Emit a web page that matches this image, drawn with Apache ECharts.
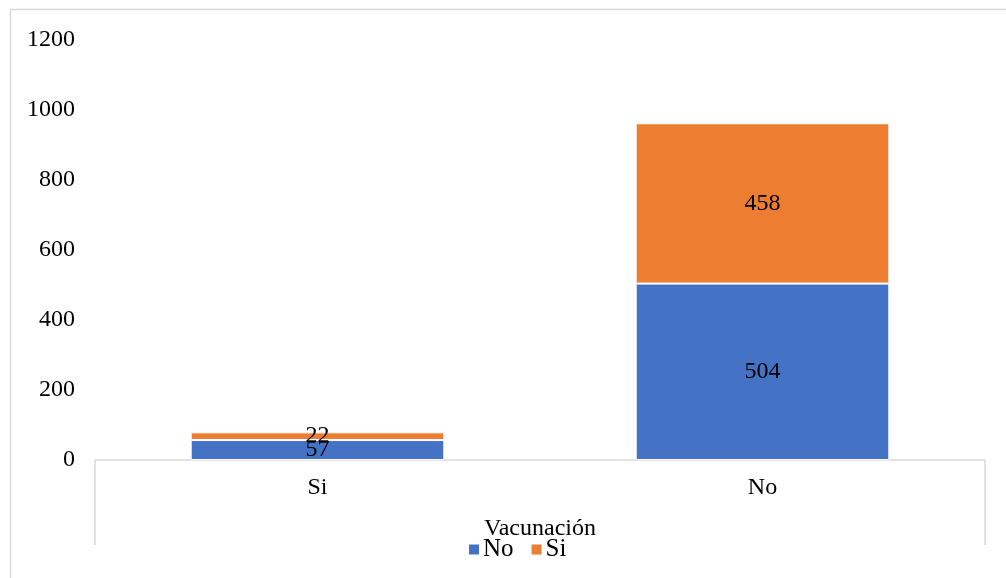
<!DOCTYPE html>
<html>
<head>
<meta charset="utf-8">
<script src="https://cdn.jsdelivr.net/npm/echarts@6/dist/echarts.min.js"></script>
<style>
  html, body { margin: 0; padding: 0; background: #fff; }
  #chart { width: 1006px; height: 578px; }
</style>
</head>
<body>
<div id="chart"></div>
<script>
// Vaccination status categories and stacked counts
const categories = ['Si', 'No'];
const seriesNo = [57, 504];
const seriesSi = [22, 458];
const groupLabel = ['Vacunación'];
const yTicks = { min: 0, max: 1200, interval: 200 };

const FONT = '"Liberation Serif", "Times New Roman", serif';
const FS = 24;
const GREY = '#d9d9d9';

const chart = echarts.init(document.getElementById('chart'));

const labelStyle = {
  show: true,
  position: 'inside',
  color: '#000',
  fontFamily: FONT,
  fontSize: FS
};

chart.setOption({
  animation: false,
  backgroundColor: '#fff',
  graphic: [{
    type: 'rect',
    shape: { x: 10.5, y: 9.5, width: 1010, height: 600 },
    style: { fill: 'none', stroke: GREY, lineWidth: 1.5 },
    silent: true
  }],
  grid: { left: 95, right: 21, top: 40, bottom: 118 },
  legend: {
    top: 532,
    left: 462,
    icon: 'rect',
    itemWidth: 12,
    itemHeight: 12,
    itemGap: 16,
    textStyle: { fontFamily: FONT, fontSize: 25, color: '#000', padding: [0, 0, 0, -2] },
    data: ['No', 'Si']
  },
  xAxis: [{
    type: 'category',
    data: categories,
    position: 'bottom',
    axisLine: { show: true, lineStyle: { color: GREY, width: 1.5 } },
    axisTick: { show: false },
    axisLabel: { fontFamily: FONT, fontSize: FS, color: '#000', margin: 16 }
  }, {
    type: 'category',
    data: groupLabel,
    position: 'bottom',
    axisLine: { show: false },
    axisTick: { show: true, length: 85, lineStyle: { color: GREY, width: 1.5 } },
    axisLabel: { fontFamily: FONT, fontSize: FS, color: '#000', margin: 57 }
  }],
  yAxis: {
    type: 'value',
    min: yTicks.min,
    max: yTicks.max,
    interval: yTicks.interval,
    axisLine: { show: false },
    axisTick: { show: false },
    splitLine: { show: false },
    axisLabel: {
      fontFamily: FONT, fontSize: FS, color: '#000', margin: 20,
      formatter: (v) => String(v)
    }
  },
  series: [{
    name: 'No',
    type: 'bar',
    stack: 'total',
    xAxisIndex: 0,
    barWidth: '57%',
    data: seriesNo,
    itemStyle: { color: '#4472C4', borderColor: '#fff', borderWidth: 1 },
    label: labelStyle
  }, {
    name: 'Si',
    type: 'bar',
    stack: 'total',
    xAxisIndex: 0,
    barWidth: '57%',
    data: seriesSi,
    itemStyle: { color: '#ED7D31', borderColor: '#fff', borderWidth: 1 },
    label: labelStyle
  }]
});
</script>
</body>
</html>
